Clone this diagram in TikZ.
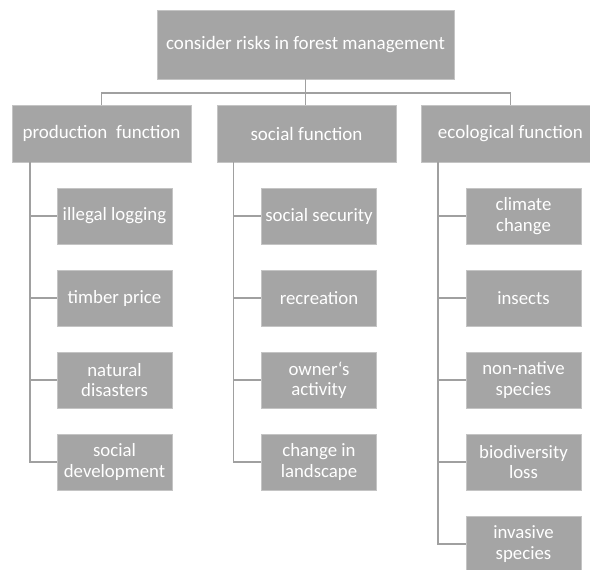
\documentclass[tikz,border=0pt]{standalone}
\usepackage{fontspec}
\setmainfont{Carlito}
\definecolor{boxgray}{HTML}{A5A5A5}
\definecolor{linegray}{HTML}{A0A0A0}
\definecolor{edgegray}{HTML}{C4C4C4}
\begin{document}
\begin{tikzpicture}[x=1pt,y=-1pt,
  box/.style={rectangle, fill=boxgray, draw=edgegray, line width=0.6pt, text=white, align=center, inner sep=0pt},
  topbox/.style={box, minimum width=297pt, minimum height=69pt, font=\fontsize{19}{23}\selectfont},
  funcbox/.style={box, minimum width=179pt, minimum height=57pt, font=\fontsize{19}{22}\selectfont},
  leafbox/.style={box, minimum width=115pt, minimum height=56pt, font=\fontsize{18.8}{20.5}\selectfont},
  conn/.style={draw=linegray, line width=1.1pt}]
\useasboundingbox (0,0) rectangle (590,570);
\clip (0,0) rectangle (590,570);
\fill[white] (0,0) rectangle (590,570);

\node[topbox] (top) at (305.5,44.5) {consider risks in forest management};

\node[funcbox] (p) at (101.5,133.5) {production\ \ function};
\node[funcbox] (s) at (306.5,133.5) {social function};
\node[funcbox] (e) at (510.5,133.5) {ecological function};

\coordinate (bus) at (305.5,93);
\draw[conn] (top.south) -- (top.south |- s.north);
\draw[conn] (p.north) -- (p.north |- bus) -- (e.north |- bus) -- (e.north);

% production leaves
\node[leafbox] (p1) at (114.5,216) {illegal logging};
\node[leafbox] (p2) at (114.5,298) {timber price};
\node[leafbox] (p3) at (114.5,380) {natural\\disasters};
\node[leafbox] (p4) at (114.5,462) {social\\development};

% social leaves
\node[leafbox] (s1) at (319,216) {social security};
\node[leafbox] (s2) at (319,298) {recreation};
\node[leafbox] (s3) at (319,380) {owner‘s\\activity};
\node[leafbox] (s4) at (319,462) {change in\\landscape};

% ecological leaves
\node[leafbox] (e1) at (523.5,216) {climate\\change};
\node[leafbox] (e2) at (523.5,298) {insects};
\node[leafbox] (e3) at (523.5,380) {non-native\\species};
\node[leafbox] (e4) at (523.5,462) {biodiversity\\loss};
\node[leafbox] (e5) at (523.5,544) {invasive\\species};

\coordinate (pv) at (30,162);
\coordinate (sv) at (233.5,162);
\coordinate (ev) at (438,162);

\foreach \c in {p1,p2,p3,p4} \draw[conn] (pv) |- (\c.west);
\foreach \c in {s1,s2,s3,s4} \draw[conn] (sv) |- (\c.west);
\foreach \c in {e1,e2,e3,e4,e5} \draw[conn] (ev) |- (\c.west);
\end{tikzpicture}
\end{document}
